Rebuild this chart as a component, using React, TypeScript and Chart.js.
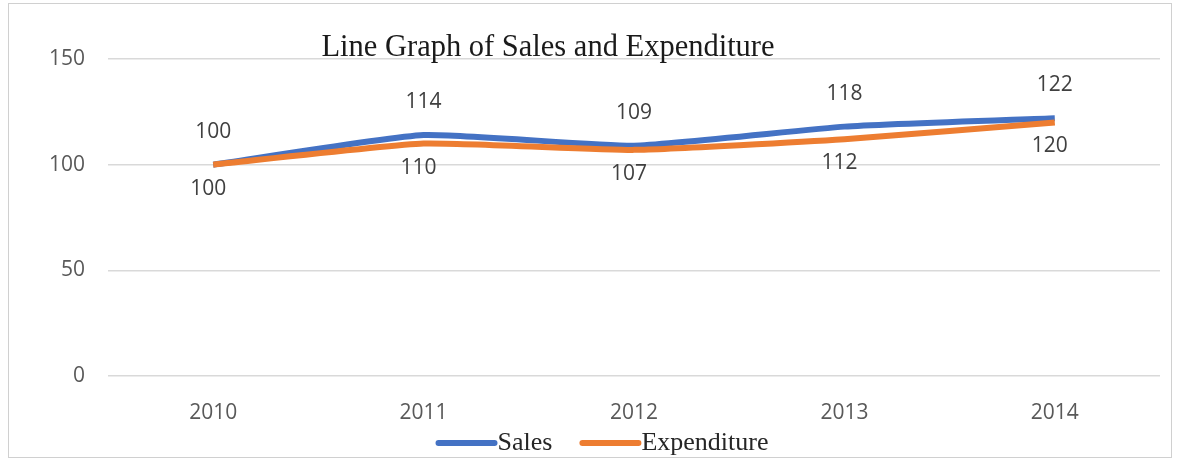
import React, { useEffect, useRef } from "react";
import { Chart, registerables } from "chart.js";

Chart.register(...registerables);

const categories = ["2010", "2011", "2012", "2013", "2014"];
const salesValues = [100, 114, 109, 118, 122];
const expenditureValues = [100, 110, 107, 112, 120];
const yTicks = [0, 50, 100, 150];
const titleText = "Line Graph of Sales and Expenditure";

const SANS = "'Open Sans', 'Noto Sans', sans-serif";
const SERIF = "'Liberation Serif', 'DejaVu Serif', serif";

const labelPlugin = {
  id: "valueLabels",
  afterDatasetsDraw(chart: any) {
    const ctx = chart.ctx;
    ctx.save();
    ctx.font = `21px ${SANS}`;
    ctx.fillStyle = "#404040";
    ctx.textAlign = "center";
    ctx.textBaseline = "middle";
    chart.data.datasets.forEach((ds: any, di: number) => {
      const meta = chart.getDatasetMeta(di);
      meta.data.forEach((pt: any, i: number) => {
        const above = di === 0;
        const dy = above ? -33 : 24;
        const dx = above ? 0 : -5;
        ctx.fillText(String(ds.data[i]), pt.x + dx, pt.y + dy);
      });
    });
    ctx.restore();
  },
};

const titlePlugin = {
  id: "overlayTitle",
  afterDraw(chart: any) {
    const ctx = chart.ctx;
    ctx.save();
    ctx.font = `30.5px ${SERIF}`;
    ctx.fillStyle = "#1a1a1a";
    ctx.textAlign = "center";
    ctx.textBaseline = "alphabetic";
    ctx.fillText(titleText, 548, 56);
    ctx.restore();
  },
};

const legendPlugin = {
  id: "lineLegend",
  afterDraw(chart: any) {
    const ctx = chart.ctx;
    const datasets = chart.data.datasets;
    const lineW = 62;
    const gap = 27;
    const y = 443;
    const centerX = 602;
    ctx.save();
    ctx.font = `26px ${SERIF}`;
    const widths = datasets.map((d: any) => ctx.measureText(d.label).width);
    let total = 0;
    widths.forEach((w: number, i: number) => {
      total += lineW + w + (i > 0 ? gap : 0);
    });
    let x = centerX - total / 2;
    datasets.forEach((d: any, i: number) => {
      ctx.strokeStyle = d.borderColor;
      ctx.lineWidth = 6;
      ctx.lineCap = "round";
      ctx.beginPath();
      ctx.moveTo(x + 3, y);
      ctx.lineTo(x + lineW - 3, y);
      ctx.stroke();
      ctx.fillStyle = "#262626";
      ctx.textAlign = "left";
      ctx.textBaseline = "middle";
      ctx.fillText(d.label, x + lineW, y);
      x += lineW + widths[i] + gap;
    });
    ctx.restore();
  },
};

export default function App() {
  const ref = useRef<HTMLCanvasElement | null>(null);

  useEffect(() => {
    if (!ref.current) return;
    const chart = new Chart(ref.current, {
      type: "line",
      data: {
        labels: categories,
        datasets: [
          {
            label: "Sales",
            data: salesValues,
            borderColor: "#4472C4",
            backgroundColor: "#4472C4",
            borderWidth: 6,
            pointRadius: 0,
            tension: 0.15,
            order: 1,
          },
          {
            label: "Expenditure",
            data: expenditureValues,
            borderColor: "#ED7D31",
            backgroundColor: "#ED7D31",
            borderWidth: 6,
            pointRadius: 0,
            tension: 0.15,
            order: 0,
          },
        ],
      },
      plugins: [labelPlugin, titlePlugin, legendPlugin],
      options: {
        animation: false,
        responsive: false,
        maintainAspectRatio: false,
        devicePixelRatio: 1,
        layout: { padding: { top: 59, right: 20, left: 0, bottom: 36 } },
        plugins: {
          title: { display: false },
          tooltip: { enabled: false },
          legend: { display: false },
        },
        scales: {
          x: {
            offset: true,
            grid: { display: false, drawTicks: false },
            border: { display: false },
            ticks: {
              color: "#595959",
              font: { family: SANS, size: 21 },
              padding: 24,
              maxRotation: 0,
            },
            afterFit: (s: any) => {
              s.height = 50;
            },
          },
          y: {
            min: 0,
            max: 150,
            afterBuildTicks: (s: any) => {
              s.ticks = yTicks.map((v) => ({ value: v }));
            },
            grid: { color: "#d9d9d9", lineWidth: 1.5, drawTicks: false },
            border: { display: false },
            ticks: {
              color: "#595959",
              font: { family: SANS, size: 21 },
              padding: 23,
            },
            afterFit: (s: any) => {
              s.width = 108;
            },
          },
        },
      },
    });
    return () => chart.destroy();
  }, []);

  return (
    <div style={{ position: "absolute", left: 0, top: 0, width: 1180, height: 462, background: "#fff" }}>
      <div
        style={{
          position: "absolute",
          left: 8,
          top: 3,
          width: 1164,
          height: 455,
          boxSizing: "border-box",
          border: "1.5px solid #d0d0d0",
        }}
      />
      <canvas
        ref={ref}
        width={1180}
        height={462}
        style={{ position: "absolute", left: 0, top: 0, width: 1180, height: 462 }}
      />
    </div>
  );
}
